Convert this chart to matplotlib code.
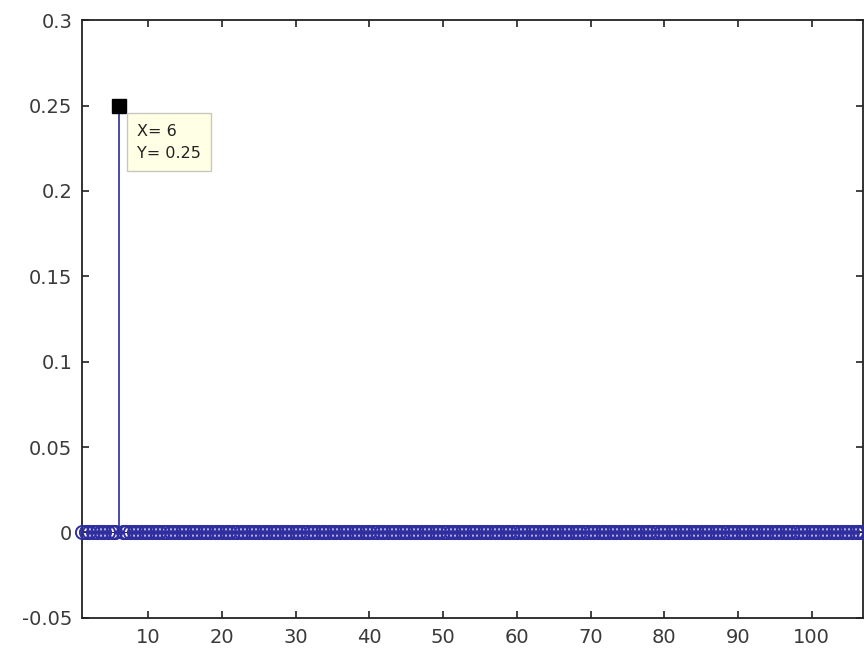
import numpy as np
import matplotlib
matplotlib.use("Agg")
import matplotlib.pyplot as plt

#--------data--------
# sample positions (half-unit spacing, read from the chain of circles)
x_vals = np.arange(1, 107.01, 0.5)
spike_x = 6
spike_y = 0.25
y_vals = np.where(x_vals == spike_x, spike_y, 0.0)

xticks = [10, 20, 30, 40, 50, 60, 70, 80, 90, 100]
yticks = [-0.05, 0, 0.05, 0.1, 0.15, 0.2, 0.25, 0.3]
ytick_labels = ["-0.05", "0", "0.05", "0.1", "0.15", "0.2", "0.25", "0.3"]
cursor_text = "X= 6\nY= 0.25"

#--------style--------
stem_color = "#2e2ea0"
line_color = "#4a4aa8"
text_color = "#3a3a3a"

plt.rcParams["font.family"] = ["DejaVu Sans"]

fig = plt.figure(figsize=(8.64, 6.49), dpi=100)
ax = fig.add_axes([0.095, 0.048, 0.904, 0.921])

# baseline
ax.axhline(0, color="#202050", lw=0.8, zorder=1)

# stems (only the non-zero one shows a line)
for xv, yv in zip(x_vals, y_vals):
  if yv != 0:
    ax.plot([xv, xv], [0, yv], color=line_color, lw=1.4, zorder=2)

zero_mask = y_vals == 0
ax.plot(x_vals[zero_mask], y_vals[zero_mask], linestyle="none", marker="o",
        markersize=9.5, markerfacecolor="none", markeredgecolor=stem_color,
        markeredgewidth=1.4, clip_on=False, zorder=3)

# data cursor
ax.plot([spike_x], [spike_y], marker="s", markersize=10, color="black",
        linestyle="none", zorder=5)
ax.annotate(cursor_text, xy=(spike_x, spike_y), xytext=(13, -13),
            textcoords="offset points", va="top", ha="left",
            fontsize=11.5, color="#222222", linespacing=1.6,
            bbox=dict(boxstyle="square,pad=0.65", fc="#ffffe6", ec="#c8c8c0", lw=1),
            zorder=6)

ax.set_xlim(1, 107)
ax.set_ylim(-0.05, 0.3)
ax.set_xticks(xticks)
ax.set_yticks(yticks)
ax.set_yticklabels(ytick_labels)

ax.tick_params(direction="in", top=True, right=True, length=5, width=1.2,
               labelsize=14, colors="#222222", labelcolor=text_color, pad=7)
for sp in ax.spines.values():
  sp.set_linewidth(1.3)
  sp.set_color("#222222")

fig.savefig("out.png", dpi=100)
